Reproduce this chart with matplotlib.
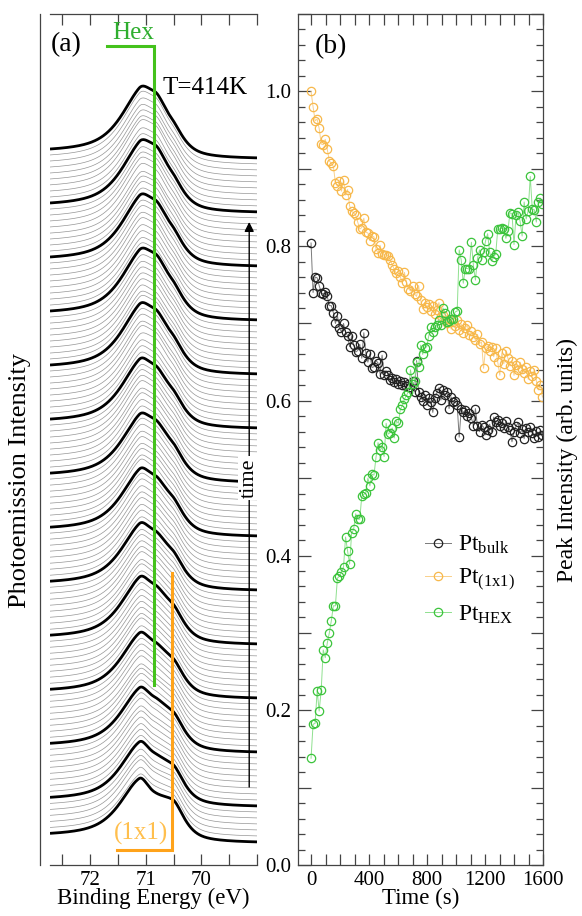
import numpy as np
import matplotlib
matplotlib.use('Agg')
import matplotlib.pyplot as plt
from matplotlib.ticker import MultipleLocator, FixedLocator, FuncFormatter

plt.rcParams['font.family'] = ['Liberation Serif', 'DejaVu Serif']
plt.rcParams['mathtext.fontset'] = 'custom'
plt.rcParams['mathtext.rm'] = 'Liberation Serif'
plt.rcParams['mathtext.it'] = 'Liberation Serif:italic'

# ---- data: peak intensities vs time (one spectrum every ~14 s)
time_step = 14
pt_1x1 = [1.000, 0.980, 0.962, 0.964, 0.952, 0.932, 0.931, 0.938, 0.925, 0.910,
          0.907, 0.903, 0.882, 0.878, 0.884, 0.871, 0.885, 0.866, 0.873, 0.852,
          0.845, 0.843, 0.840, 0.831, 0.822, 0.824, 0.836, 0.818, 0.817, 0.807,
          0.813, 0.812, 0.796, 0.791, 0.801, 0.790, 0.788, 0.789, 0.787, 0.782,
          0.776, 0.770, 0.765, 0.768, 0.760, 0.752, 0.766, 0.753, 0.745, 0.742,
          0.748, 0.738, 0.735, 0.749, 0.730, 0.719, 0.727, 0.721, 0.725, 0.716,
          0.722, 0.712, 0.718, 0.727, 0.709, 0.711, 0.704, 0.700, 0.706, 0.693,
          0.702, 0.697, 0.704, 0.692, 0.699, 0.688, 0.694, 0.698, 0.685, 0.690,
          0.683, 0.679, 0.686, 0.674, 0.676, 0.642, 0.668, 0.671, 0.664, 0.670,
          0.657, 0.668, 0.650, 0.633, 0.662, 0.648, 0.665, 0.655, 0.645, 0.652,
          0.633, 0.646, 0.640, 0.650, 0.641, 0.636, 0.644, 0.628, 0.639, 0.632,
          0.640, 0.626, 0.614, 0.621, 0.605]
pt_bulk = [0.804, 0.740, 0.760, 0.759, 0.749, 0.740, 0.738, 0.741, 0.735, 0.723,
           0.723, 0.714, 0.700, 0.710, 0.694, 0.689, 0.700, 0.689, 0.684, 0.670,
           0.684, 0.672, 0.663, 0.665, 0.673, 0.655, 0.688, 0.662, 0.650, 0.661,
           0.643, 0.644, 0.652, 0.649, 0.635, 0.659, 0.634, 0.639, 0.633, 0.627,
           0.630, 0.624, 0.628, 0.622, 0.626, 0.620, 0.624, 0.619, 0.622, 0.618,
           0.625, 0.612, 0.652, 0.611, 0.605, 0.600, 0.608, 0.595, 0.603, 0.598,
           0.585, 0.604, 0.610, 0.617, 0.601, 0.614, 0.607, 0.612, 0.590, 0.605,
           0.598, 0.600, 0.594, 0.553, 0.590, 0.585, 0.588, 0.580, 0.584, 0.578,
           0.568, 0.590, 0.567, 0.560, 0.569, 0.566, 0.556, 0.562, 0.570, 0.560,
           0.579, 0.572, 0.575, 0.568, 0.571, 0.565, 0.574, 0.566, 0.562, 0.547,
           0.560, 0.567, 0.572, 0.558, 0.563, 0.551, 0.565, 0.560, 0.566, 0.558,
           0.552, 0.561, 0.553, 0.562, 0.556]
pt_hex = [0.138, 0.182, 0.183, 0.225, 0.199, 0.226, 0.278, 0.268, 0.287, 0.300,
          0.316, 0.335, 0.335, 0.371, 0.373, 0.379, 0.385, 0.424, 0.406, 0.389,
          0.429, 0.434, 0.454, 0.447, 0.447, 0.477, 0.479, 0.481, 0.500, 0.490,
          0.505, 0.504, 0.527, 0.546, 0.536, 0.540, 0.528, 0.571, 0.557, 0.559,
          0.565, 0.552, 0.574, 0.571, 0.589, 0.594, 0.602, 0.607, 0.612, 0.640,
          0.622, 0.625, 0.650, 0.644, 0.672, 0.660, 0.668, 0.670, 0.684, 0.695,
          0.689, 0.696, 0.698, 0.705, 0.698, 0.720, 0.714, 0.702, 0.703, 0.706,
          0.706, 0.715, 0.716, 0.795, 0.782, 0.752, 0.771, 0.771, 0.770, 0.805,
          0.775, 0.756, 0.784, 0.795, 0.782, 0.793, 0.807, 0.816, 0.792, 0.781,
          0.786, 0.790, 0.822, 0.822, 0.823, 0.822, 0.810, 0.820, 0.843, 0.842,
          0.802, 0.840, 0.844, 0.832, 0.813, 0.857, 0.835, 0.846, 0.890, 0.848,
          0.847, 0.831, 0.857, 0.862, 0.855]
time_s = np.arange(len(pt_1x1)) * time_step

# ---- panel (a) peak model: bulk, (1x1) surface, hex surface components
peak_pos = [71.12, 70.53, 70.84]   # eV
peak_hwhm = [0.22, 0.26, 0.25]
peak_scale = [50.0, 37.0, 45.0]
asym = 2.0          # tail towards higher binding energy
eta = 0.7           # lorentzian fraction
shirley_step = 6.0
offset = 6.0        # waterfall spacing

hex_marker_E = 70.86
surf_marker_E = 70.53

c_orange = '#f7b84b'
c_orange_line = '#f9d08a'
c_orange_mark = '#ffa31a'
c_green = '#3cc43c'
c_green_line = '#8fe08f'
c_green_mark = '#44c21c'


def line_shape(E, E0, w):
    ww = np.where(E > E0, w * asym, w)
    x = (E - E0) / ww
    return eta / (1 + x ** 2) + (1 - eta) * np.exp(-np.log(2) * x ** 2)


fig = plt.figure(figsize=(5.82, 9.16), dpi=100)
ax1 = fig.add_axes([50 / 582, 51 / 916, 207 / 582, 851 / 916])
ax2 = fig.add_axes([298 / 582, 51 / 916, 245 / 582, 851 / 916])

# ---- panel (a): waterfall of spectra
E = np.linspace(72.72, 69.0, 300)
n = len(pt_1x1)
thick = [k for k in range(n) if k == 0 or (k - 6) % 9 == 0]
for k in range(n):
    amps = [peak_scale[0] * pt_bulk[k], peak_scale[1] * pt_1x1[k], peak_scale[2] * pt_hex[k]]
    peak = sum(a * line_shape(E, p, w) for a, p, w in zip(amps, peak_pos, peak_hwhm))
    bg = shirley_step * np.cumsum(peak[::-1])[::-1] / peak.sum()
    y = 22 + offset * k + bg + peak
    if k in thick:
        ax1.plot(E, y, color='black', lw=2.0, zorder=3, solid_capstyle='butt')
    else:
        ax1.plot(E, y, color='#959595', lw=0.5, zorder=2)

ax1.set_xlim(72.72, 69.0)
ax1.set_ylim(0, 851)
ax1.set_yticks([])
ax1.spines['right'].set_visible(False)
ax1.spines['left'].set_position(('outward', 7))
for s in ax1.spines.values():
    s.set_color('#444444')
    s.set_linewidth(0.9)
ax1.xaxis.set_major_locator(FixedLocator([72, 71, 70]))
ax1.xaxis.set_minor_locator(MultipleLocator(0.5))
ax1.tick_params(axis='x', which='both', direction='in', top=True, bottom=True,
                length=8, width=0.9, color='#444444', labelsize=15, pad=4)
ax1.set_xlabel('Binding Energy (eV)', fontsize=16.5, labelpad=-1)

# hex and (1x1) markers
ax1.plot([71.69, hex_marker_E, hex_marker_E], [819, 819, 180], color=c_green_mark,
         lw=2.2, zorder=5, solid_joinstyle='miter')
ax1.text(71.23, 832, 'Hex', color='#2fae2f', fontsize=18, ha='center', va='center')
ax1.plot([71.52, surf_marker_E, surf_marker_E], [15, 15, 292], color=c_orange_mark,
         lw=2.2, zorder=5, solid_joinstyle='miter')
ax1.text(71.09, 32, '(1x1)', color='#ffbf4d', fontsize=18, ha='center', va='center', zorder=6)
ax1.text(70.69, 777, 'T=414K', fontsize=18, ha='left', va='center')
ax1.text(0.005, 0.964, '(a)', transform=ax1.transAxes, fontsize=20, ha='left', va='center')

# time arrow
ax1.annotate('', xy=(69.14, 643), xytext=(69.14, 78),
             arrowprops=dict(arrowstyle='-|>', color='black', lw=1.0,
                             mutation_scale=14, shrinkA=0, shrinkB=0), zorder=6)
ax1.text(69.14, 387, 'time', rotation=90, fontsize=16, ha='center', va='center',
         zorder=7, bbox=dict(facecolor='white', edgecolor='none', pad=1.5))

fig.text(20 / 582, 1 - 480 / 916, 'Photoemission Intensity', rotation=90,
         fontsize=19, ha='center', va='center')

# ---- panel (b): peak intensities
mk = dict(marker='o', markersize=6, mfc='none', mew=0.9)
ax2.plot(time_s, pt_bulk, color='#7a7a7a', lw=0.7, mec='#222222',
         label='Pt$_{\\rm bulk}$', **mk)
ax2.plot(time_s, pt_1x1, color=c_orange_line, lw=0.7, mec=c_orange,
         label='Pt$_{\\rm (1x1)}$', **mk)
ax2.plot(time_s, pt_hex, color=c_green_line, lw=0.7, mec=c_green,
         label='Pt$_{\\rm HEX}$', **mk)

ax2.set_xlim(-90, 1600)
ax2.set_ylim(0, 1.1)
ax2.xaxis.set_major_locator(MultipleLocator(400))
ax2.xaxis.set_minor_locator(MultipleLocator(100))
ax2.yaxis.set_major_locator(MultipleLocator(0.1))
ax2.yaxis.set_minor_locator(MultipleLocator(0.02))
ax2.yaxis.set_major_formatter(FuncFormatter(
    lambda v, p: '%.1f' % v if int(round(v * 10)) % 2 == 0 else ''))
ax2.tick_params(axis='x', which='both', direction='in', top=True, bottom=True,
                length=8, width=0.9, color='#444444', labelsize=15, pad=4)
ax2.tick_params(axis='y', which='major', direction='in', left=True, right=True,
                length=9, width=0.9, color='#444444', labelsize=15, pad=5)
ax2.tick_params(axis='y', which='minor', direction='in', left=True, right=True,
                length=5, width=0.9, color='#444444')
for s in ax2.spines.values():
    s.set_color('#444444')
    s.set_linewidth(0.9)
ax2.set_xlabel('Time (s)', fontsize=16.5, labelpad=-1)
ax2.text(0.07, 0.962, '(b)', transform=ax2.transAxes, fontsize=20, ha='left', va='center')

ax2.legend(loc='center left', bbox_to_anchor=(0.52, 0.335), frameon=False,
           fontsize=17, handlelength=1.1, handletextpad=0.3, labelspacing=0.45,
           borderpad=0, borderaxespad=0)

fig.text(567 / 582, 1 - 460 / 916, 'Peak Intensity (arb. units)', rotation=90,
         fontsize=17, ha='center', va='center')

fig.savefig('out.png', dpi=100)
